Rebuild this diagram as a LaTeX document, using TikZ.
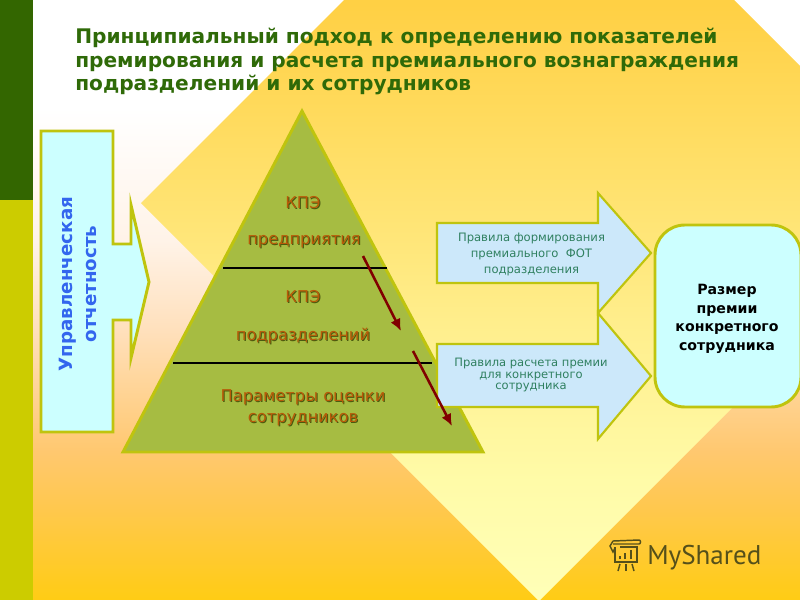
\documentclass[tikz,border=0pt]{standalone}
\usepackage{fontspec}
\usetikzlibrary{arrows.meta}
\setmainfont{DejaVu Sans}
\newfontfamily\logofont{PT Sans}
\definecolor{bandgreen}{HTML}{336600}
\definecolor{bandolive}{HTML}{CCCC00}
\definecolor{edgeolive}{HTML}{BFC40E}
\definecolor{pyrfill}{HTML}{A6BC42}
\definecolor{paleCyan}{HTML}{CCFFFF}
\definecolor{paleBlue}{HTML}{CCE8FA}
\definecolor{titlegreen}{HTML}{2F6A08}
\definecolor{rulegreen}{HTML}{2F8060}
\definecolor{pyrtext}{HTML}{B85A08}
\definecolor{pyrshadow}{HTML}{4A5A10}
\definecolor{arrowred}{HTML}{800000}
\definecolor{vertblue}{HTML}{3366EE}
\definecolor{logoink}{HTML}{55501A}
\definecolor{bgA}{HTML}{FFCC14}
\definecolor{bgB}{HTML}{FFC850}
\definecolor{bgC}{HTML}{FFC870}
\definecolor{bgD}{HTML}{FFE0BC}
\definecolor{bgE}{HTML}{FFF3E8}
\definecolor{diA}{HTML}{FFFFB8}
\definecolor{diB}{HTML}{FFFBA8}
\definecolor{diC}{HTML}{FFEE8C}
\definecolor{diD}{HTML}{FFDF68}
\definecolor{diE}{HTML}{FFD044}
\definecolor{diF}{HTML}{FFC830}
\pgfdeclareverticalshading{slidebg}{100bp}{
 color(0bp)=(bgA); color(25bp)=(bgA); color(33bp)=(bgB); color(37.5bp)=(bgC); color(47.5bp)=(bgD); color(55bp)=(bgE); color(66bp)=(white); color(100bp)=(white)}
\pgfdeclareverticalshading{diamondbg}{100bp}{
 color(0bp)=(diA); color(25bp)=(diA); color(32.5bp)=(diB); color(42.5bp)=(diC); color(52.5bp)=(diD); color(62.5bp)=(diE); color(75bp)=(diF); color(100bp)=(diF)}
\tikzset{
 outl/.style={draw=edgeolive,line width=2.2pt,line join=miter},
 pyrlabel/.style={font=\fontsize{12.2}{15.8}\selectfont,align=center,text=pyrtext,inner sep=0pt},
 pyrshade/.style={font=\fontsize{12.2}{15.8}\selectfont,align=center,text=pyrshadow,inner sep=0pt},
 rulelabel/.style={align=center,text=rulegreen,inner sep=0pt},
 tier/.style={draw=black,line width=1pt},
 flow/.style={draw=arrowred,line width=1.9pt,-{Latex[length=9pt,width=8pt]}},
}
\begin{document}
\begin{tikzpicture}[x=0.75pt,y=-0.75pt]
\useasboundingbox (0,0) rectangle (800,600);
\begin{scope}
\clip (0,0) rectangle (800,600);
\shade[shading=slidebg] (0,0) rectangle (800,600);
\fill[bandgreen] (0,0) rectangle (33,200);
\fill[bandolive] (0,200) rectangle (33,600);
\shade[shading=diamondbg] (141,203) -- (539,-195) -- (937,203) -- (539,601) -- cycle;
\node[anchor=north west,inner sep=0pt,align=left,text=titlegreen,font=\bfseries\fontsize{15.1}{17.6}\selectfont] (title) at (75,28)
 {Принципиальный подход к определению показателей\\премирования и расчета премиального вознаграждения\\подразделений и их сотрудников};
% reporting arrow
\draw[outl,fill=paleCyan] (41,131) -- (113,131) -- (113,244) -- (131,244) -- (131,205) -- (149,282) -- (131,358) -- (131,320) -- (113,320) -- (113,432) -- (41,432) -- cycle;
\node[rotate=90,align=center,text=vertblue,inner sep=0pt,font=\bfseries\fontsize{13.7}{18.5}\selectfont] (report) at (78,284) {Управленческая\\отчетность};
% pyramid
\draw[outl,fill=pyrfill] (302,111) -- (483,452) -- (123,452) -- cycle;
\coordinate (t1a) at (223,268); \coordinate (t1b) at (387,268);
\coordinate (t2a) at (173,363); \coordinate (t2b) at (432,363);
\draw[tier] (t1a) -- (t1b);
\draw[tier] (t2a) -- (t2b);
\node[pyrshade] (s1) at (304,204) {КПЭ};
\node[pyrlabel] (k1) at (303,203) {КПЭ};
\node[pyrshade] (s2) at (305,243) {предприятия};
\node[pyrlabel] (k2) at (304,242) {предприятия};
\node[pyrshade] (s3) at (304,298) {КПЭ};
\node[pyrlabel] (k3) at (303,297) {КПЭ};
\node[pyrshade] (s4) at (304,337) {подразделений};
\node[pyrlabel] (k4) at (303,336) {подразделений};
\node[pyrshade] (s5) at (304,408.5) {Параметры оценки\\сотрудников};
\node[pyrlabel] (k5) at (303,407.5) {Параметры оценки\\сотрудников};
% rule arrows
\draw[outl,line width=1.6pt,fill=paleBlue] (437,223) -- (598,223) -- (598,193) -- (651,253) -- (598,313) -- (598,283) -- (437,283) -- cycle;
\draw[outl,line width=1.6pt,fill=paleBlue] (437,344) -- (598,344) -- (598,313) -- (651,376) -- (598,439) -- (598,407) -- (437,407) -- cycle;
\node[rulelabel,font=\fontsize{8.7}{12}\selectfont] (rule1) at (531.5,254) {Правила формирования\\премиального\ \ ФОТ\\подразделения};
\node[rulelabel,font=\fontsize{8.65}{8.8}\selectfont] (rule2) at (531,375) {Правила расчета премии\\для конкретного\\сотрудника};
% arrows
\coordinate (f1a) at (363,256); \coordinate (f1b) at (401,331);
\coordinate (f2a) at (413,351); \coordinate (f2b) at (452,426);
\draw[flow] (f1a) -- (f1b);
\draw[flow] (f2a) -- (f2b);
% result box
\draw[outl,fill=paleCyan,rounded corners=22.5pt] (655,225) rectangle (801,407);
\node[align=center,inner sep=0pt,text=black,font=\bfseries\fontsize{10.6}{14}\selectfont] (result) at (727,319) {Размер\\премии\\конкретного\\сотрудника};
% logo
\begin{scope}[draw=logoink,line width=1.1pt]
\draw (613,541) -- (639,540) arc (-90:90:1.5 and 2) -- (613,544);
\draw (613,541) -- (610,546) -- (613,552) -- (615,548);
\draw (615,547) -- (615,562) -- (637,562) -- (637,547) -- (620,547);
\draw[line width=1.6pt] (620,559) -- (620,556);
\draw[line width=1.6pt] (625,559) -- (625,553);
\draw[line width=1.6pt] (631,559) -- (631,550);
\draw (620,564) -- (618,571);
\draw (626,564) -- (626,571);
\draw (632,564) -- (634,571);
\end{scope}
\node[anchor=base west,inner sep=0pt,text=logoink,font=\logofont\fontsize{20.3}{24}\selectfont] (logo) at (647,564) {MyShared};
\end{scope}
\end{tikzpicture}
\end{document}
